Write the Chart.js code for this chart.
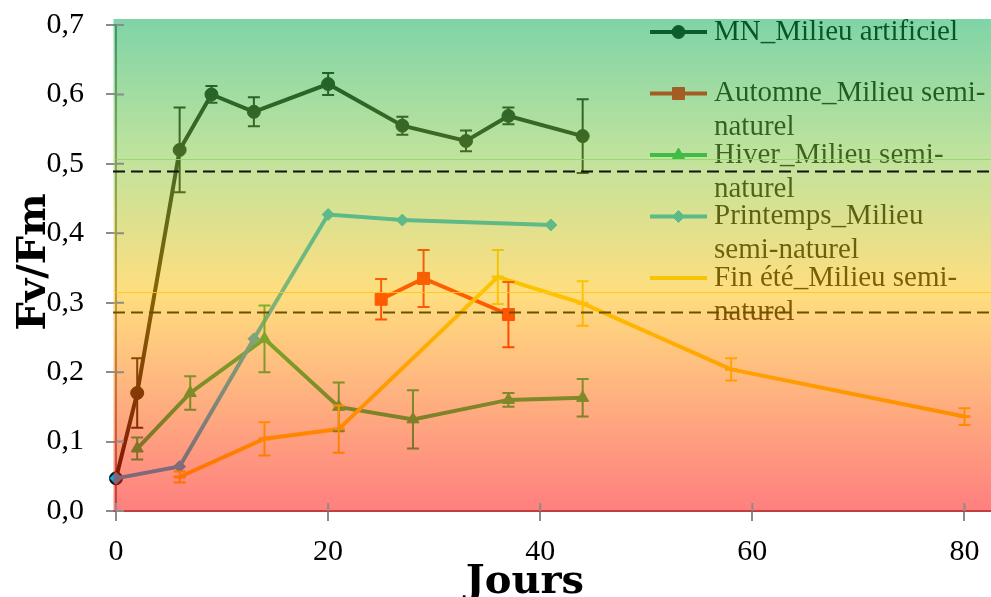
<!DOCTYPE html>
<html>
<head>
<meta charset="utf-8">
<script src="https://cdn.jsdelivr.net/npm/chart.js@4.4.0/dist/chart.umd.min.js"></script>
<style>
  html, body { margin: 0; padding: 0; background: #fff; }
  #wrap { width: 991px; height: 597px; }
</style>
</head>
<body>
<div id="wrap"><canvas id="chart" width="991" height="597"></canvas></div>
<script>
// Fv/Fm per day, one set of arrays per series
const mnDays = [0, 2, 6, 9, 13, 20, 27, 33, 37, 44];
const mnValues = [0.047, 0.17, 0.52, 0.60, 0.575, 0.615, 0.555, 0.533, 0.569, 0.54];
const mnErrors = [0, 0.05, 0.061, 0.012, 0.021, 0.016, 0.013, 0.015, 0.012, 0.053];

const automneDays = [25, 29, 37];
const automneValues = [0.305, 0.335, 0.283];
const automneErrors = [0.029, 0.041, 0.047];

const hiverDays = [2, 7, 14, 21, 28, 37, 44];
const hiverValues = [0.09, 0.17, 0.248, 0.15, 0.132, 0.16, 0.163];
const hiverErrors = [0.016, 0.024, 0.048, 0.035, 0.042, 0.01, 0.027];

const printempsDays = [0, 6, 13, 20, 27, 41];
const printempsValues = [0.047, 0.064, 0.248, 0.427, 0.419, 0.412];

const finEteDays = [6, 14, 21, 36, 44, 58, 80];
const finEteValues = [0.049, 0.104, 0.118, 0.337, 0.299, 0.204, 0.136];
const finEteErrors = [0.008, 0.024, 0.034, 0.039, 0.032, 0.016, 0.012];

const seriesNames = [
  ['MN_Milieu artificiel'],
  ['Automne_Milieu semi-', 'naturel'],
  ['Hiver_Milieu semi-', 'naturel'],
  ['Printemps_Milieu', 'semi-naturel'],
  ['Fin été_Milieu semi-', 'naturel']
];

const thresholds = [0.489, 0.286];
const yTicks = [0, 0.1, 0.2, 0.3, 0.4, 0.5, 0.6, 0.7];
const xTicks = [0, 20, 40, 60, 80];

const tickFont = { family: 'Liberation Serif', size: 30 };
const titleFont = 'bold 40px "DejaVu Serif"';

function toPoints(days, values) {
  return days.map((d, i) => ({ x: d, y: values[i] }));
}

function makeSet(idx, days, values, errors, color, style, radius) {
  return {
    label: seriesNames[idx].join(' '),
    legendLines: seriesNames[idx],
    data: toPoints(days, values),
    errors: errors,
    showLine: true,
    borderColor: color,
    backgroundColor: color,
    borderWidth: 4,
    pointStyle: style,
    pointRadius: radius,
    pointBorderWidth: style === 'line' ? 3 : 1,
    pointBorderColor: color,
    pointBackgroundColor: color,
    clip: false,
    order: 5 - idx
  };
}

const datasets = [
  makeSet(0, mnDays, mnValues, mnErrors, 'rgb(10,15,10)', 'circle', 6.5),
  makeSet(1, automneDays, automneValues, automneErrors, 'rgb(255,0,0)', 'rect', 8.5),
  makeSet(2, hiverDays, hiverValues, hiverErrors, 'rgb(0,176,80)', 'triangle', 7),
  makeSet(3, printempsDays, printempsValues, null, 'rgb(0,176,240)', 'rectRot', 6),
  makeSet(4, finEteDays, finEteValues, finEteErrors, 'rgb(255,200,0)', 'line', 6)
];

// error bars, legend, tinted overlay, reference lines, axis titles
const decorations = {
  id: 'decorations',
  afterDatasetsDraw(chart) {
    const ctx = chart.ctx;
    const area = chart.chartArea;
    const xs = chart.scales.x, ys = chart.scales.y;

    // error bars
    chart.data.datasets.forEach(ds => {
      if (!ds.errors) return;
      ctx.save();
      ctx.strokeStyle = ds.borderColor;
      ctx.lineWidth = 2;
      ds.data.forEach((p, i) => {
        const e = ds.errors[i];
        if (!e) return;
        const px = xs.getPixelForValue(p.x);
        const top = ys.getPixelForValue(p.y + e);
        const bot = ys.getPixelForValue(p.y - e);
        ctx.beginPath();
        ctx.moveTo(px, top); ctx.lineTo(px, bot);
        ctx.moveTo(px - 6, top); ctx.lineTo(px + 6, top);
        ctx.moveTo(px - 6, bot); ctx.lineTo(px + 6, bot);
        ctx.stroke();
      });
      ctx.restore();
    });

    // legend
    const lx0 = 650, lx1 = 707, tx = 714;
    let ly = 32;
    ctx.save();
    chart.data.datasets.forEach(ds => {
      ctx.strokeStyle = ds.borderColor;
      ctx.fillStyle = ds.backgroundColor;
      ctx.lineWidth = 4;
      ctx.beginPath();
      ctx.moveTo(lx0, ly); ctx.lineTo(lx1, ly);
      ctx.stroke();
      ctx.lineWidth = ds.pointBorderWidth;
      Chart.helpers.drawPoint(ctx, {
        pointStyle: ds.pointStyle, radius: ds.pointRadius, rotation: 0,
        borderWidth: ds.pointBorderWidth
      }, (lx0 + lx1) / 2, ly);
      ctx.fillStyle = '#000';
      ctx.font = '29px "Liberation Serif"';
      ctx.textBaseline = 'middle';
      ctx.textAlign = 'left';
      ds.legendLines.forEach((t, k) => ctx.fillText(t, tx, ly + k * 34));
      ly += 61.5;
    });
    ctx.restore();

    // semi-transparent colour overlay on the plot
    const oTop = area.top - 6, oBot = area.bottom + 1;
    const g = ctx.createLinearGradient(0, oTop, 0, oBot);
    g.addColorStop(0, 'rgb(0,170,80)');
    g.addColorStop(0.28, 'rgb(130,200,60)');
    g.addColorStop(0.554, 'rgb(255,190,0)');
    g.addColorStop(1, 'rgb(255,0,0)');
    ctx.save();
    ctx.globalAlpha = 0.5;
    ctx.fillStyle = g;
    ctx.fillRect(area.left - 2.5, oTop, area.right - area.left + 2.5, oBot - oTop);
    ctx.restore();

    // faint band edges
    ctx.save();
    ctx.lineWidth = 1;
    ctx.strokeStyle = 'rgba(150,215,110,0.9)';
    let yb = Math.round(ys.getPixelForValue(0.507)) + 0.5;
    ctx.beginPath(); ctx.moveTo(area.left, yb); ctx.lineTo(area.right, yb); ctx.stroke();
    ctx.strokeStyle = 'rgba(255,200,30,0.9)';
    yb = Math.round(ys.getPixelForValue(0.315)) + 0.5;
    ctx.beginPath(); ctx.moveTo(area.left, yb); ctx.lineTo(area.right, yb); ctx.stroke();
    ctx.restore();

    // dashed thresholds
    const dashColors = ['#111111', '#6b5200'];
    ctx.save();
    ctx.lineWidth = 2;
    ctx.setLineDash([12, 6]);
    thresholds.forEach((t, i) => {
      const y = ys.getPixelForValue(t);
      ctx.strokeStyle = dashColors[i];
      ctx.beginPath(); ctx.moveTo(area.left - 3, y); ctx.lineTo(area.right, y); ctx.stroke();
    });
    ctx.restore();

    // inner part of tick marks
    ctx.save();
    ctx.strokeStyle = '#8c8c8c';
    ctx.lineWidth = 2;
    ctx.beginPath();
    yTicks.forEach(v => {
      const y = ys.getPixelForValue(v);
      ctx.moveTo(area.left, y); ctx.lineTo(area.left + 8, y);
    });
    xTicks.forEach(v => {
      const x = xs.getPixelForValue(v);
      ctx.moveTo(x, area.bottom); ctx.lineTo(x, area.bottom - 8);
    });
    ctx.stroke();
    ctx.restore();

    // axis titles
    ctx.save();
    ctx.fillStyle = '#000';
    ctx.font = titleFont;
    ctx.textAlign = 'center';
    ctx.textBaseline = 'alphabetic';
    ctx.fillText('Jours', 525, 593);
    ctx.translate(45, 262);
    ctx.rotate(-Math.PI / 2);
    ctx.fillText('Fv/Fm', 0, 0);
    ctx.restore();
  }
};

new Chart(document.getElementById('chart'), {
  type: 'scatter',
  data: { datasets: datasets },
  options: {
    responsive: false,
    animation: false,
    layout: { autoPadding: false, padding: { top: 25, right: 0, left: 0, bottom: 0 } },
    plugins: {
      legend: { display: false },
      tooltip: { enabled: false }
    },
    scales: {
      x: {
        type: 'linear',
        min: 0,
        max: 82.5,
        afterBuildTicks: s => { s.ticks = xTicks.map(v => ({ value: v })); },
        afterFit: s => { s.height = 86; s.paddingLeft = 0; s.paddingRight = 0; },
        ticks: { font: tickFont, color: '#000', padding: 13, maxRotation: 0 },
        grid: { drawOnChartArea: false, drawTicks: true, tickLength: 10, color: '#8c8c8c', lineWidth: 2 },
        border: { display: true, color: '#808080', width: 2 }
      },
      y: {
        type: 'linear',
        min: 0,
        max: 0.7,
        afterBuildTicks: s => { s.ticks = yTicks.map(v => ({ value: v })); },
        afterFit: s => { s.width = 116; s.paddingTop = 0; s.paddingBottom = 0; },
        ticks: {
          font: tickFont, color: '#000', padding: 22,
          callback: v => v.toFixed(1).replace('.', ',')
        },
        grid: { drawOnChartArea: false, drawTicks: true, tickLength: 10, color: '#8c8c8c', lineWidth: 2 },
        border: { display: true, color: '#808080', width: 2 }
      }
    }
  },
  plugins: [decorations]
});
</script>
</body>
</html>
